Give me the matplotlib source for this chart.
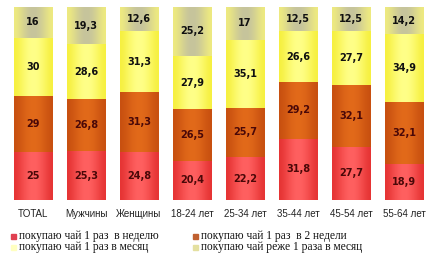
import matplotlib
matplotlib.use("Agg")
import matplotlib.pyplot as plt
import numpy as np
from matplotlib.colors import to_rgb
from matplotlib.patches import Rectangle

categories = ["TOTAL", "Мужчины", "Женщины", "18-24 лет", "25-34 лет",
              "35-44 лет", "45-54 лет", "55-64 лет"]
weekly = [25, 25.3, 24.8, 20.4, 22.2, 31.8, 27.7, 18.9]
biweekly = [29, 26.8, 31.3, 26.5, 25.7, 29.2, 32.1, 32.1]
monthly = [30, 28.6, 31.3, 27.9, 35.1, 26.6, 27.7, 34.9]
rarer = [16, 19.3, 12.6, 25.2, 17, 12.5, 12.5, 14.2]
series_names = ["покупаю чай 1 раз  в неделю", "покупаю чай 1 раз  в 2 недели",
                "покупаю чай 1 раз в месяц", "покупаю чай реже 1 раза в месяц"]

# (edge, centre) colours of the shaded cylinders, plus legend swatch colour
shades = [("#e63434", "#ff6060", "#e04050"),
          ("#c85010", "#e26a1a", "#c06030"),
          ("#f6f040", "#ffff88", "#ffffc0"),
          ("#eeea80", "#c6c49c", "#e4e0a0")]
txtcol = ["#4a0808", "#4a0808", "#101010", "#101010"]

fig = plt.figure(figsize=(4.41, 2.62), dpi=100)
ax = fig.add_axes([0, 1 - 200 / 262, 1, 193 / 262])
ax.set_xlim(-33 / 53, (441 - 33) / 53)
ax.set_ylim(0, 100)
ax.axis("off")

w = 0.72
x = np.arange(len(categories))
prof = np.cos(np.linspace(-np.pi / 2, np.pi / 2, 64)) ** 1.5
bottom = np.zeros(len(categories))
for k, vals in enumerate([weekly, biweekly, monthly, rarer]):
    vals = np.array(vals, dtype=float)
    bars = ax.bar(x, vals, w, bottom=bottom, color=shades[k][0], linewidth=0)
    e = np.array(to_rgb(shades[k][0]))
    c = np.array(to_rgb(shades[k][1]))
    grad = (e[None, :] * (1 - prof[:, None]) + c[None, :] * prof[:, None])[None, :, :]
    for b, v, b0 in zip(bars, vals, bottom):
        im = ax.imshow(grad, extent=(b.get_x(), b.get_x() + w, b0, b0 + v),
                       aspect="auto", zorder=2, interpolation="bilinear")
        im.set_clip_path(b)
        lab = ("%g" % v).replace(".", ",")
        ax.text(b.get_x() + w / 2, b0 + v / 2, lab, ha="center", va="center",
                fontsize=7, fontweight="bold", color=txtcol[k], zorder=3)
    bottom += vals

for xi, cat in zip(x, categories):
    ax.text(xi, -7.3, cat, ha="center", va="center", fontsize=7,
            family="Liberation Sans", color="#222222", clip_on=False)

# legend, two columns
pos = [(13, 236), (195, 236), (13, 247), (195, 247)]
for k, (px, py) in enumerate(pos):
    fig.patches.append(Rectangle(((px - 2.5) / 441, 1 - (py + 2.5) / 262), 5 / 441, 5 / 262,
                                 transform=fig.transFigure, color=shades[k][2]))
    fig.text((px + 6) / 441, 1 - py / 262, series_names[k], ha="left", va="center",
             fontsize=8.3, family="Liberation Serif", color="#111111")

fig.savefig("out.png", dpi=100)
